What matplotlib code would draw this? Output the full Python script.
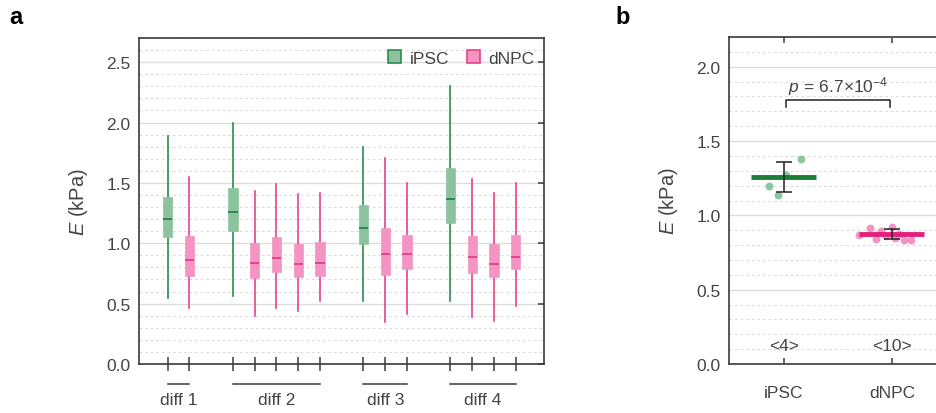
import matplotlib
matplotlib.use("Agg")
import matplotlib.pyplot as plt
from matplotlib.patches import Patch
from matplotlib.ticker import MultipleLocator
import numpy as np

FONT = "Liberation Sans"
plt.rcParams["font.family"] = [FONT, "DejaVu Sans"]
plt.rcParams["mathtext.fontset"] = "custom"
plt.rcParams["mathtext.rm"] = FONT
plt.rcParams["mathtext.it"] = f"{FONT}:italic"

# ---- panel a: per-differentiation box statistics ----
cell_type = ["iPSC", "dNPC",
             "iPSC", "dNPC", "dNPC", "dNPC", "dNPC",
             "iPSC", "dNPC", "dNPC",
             "iPSC", "dNPC", "dNPC", "dNPC"]
box_pos = [0, 1, 3, 4, 5, 6, 7, 9, 10, 11, 13, 14, 15, 16]
whis_lo = [0.55, 0.46, 0.56, 0.40, 0.46, 0.44, 0.52, 0.52, 0.35, 0.41, 0.52, 0.39, 0.36, 0.48]
q1      = [1.05, 0.73, 1.10, 0.71, 0.76, 0.72, 0.73, 0.99, 0.74, 0.79, 1.17, 0.75, 0.72, 0.79]
median  = [1.20, 0.86, 1.26, 0.84, 0.88, 0.83, 0.84, 1.13, 0.91, 0.91, 1.37, 0.89, 0.83, 0.89]
q3      = [1.38, 1.06, 1.46, 1.00, 1.05, 0.99, 1.01, 1.32, 1.13, 1.07, 1.62, 1.06, 0.99, 1.07]
whis_hi = [1.89, 1.55, 2.00, 1.43, 1.49, 1.41, 1.42, 1.80, 1.71, 1.50, 2.30, 1.53, 1.42, 1.50]

groups = ["diff 1", "diff 2", "diff 3", "diff 4"]
group_span = [(0, 1), (3, 7), (9, 11), (13, 16)]

# ---- panel b: per-replicate means ----
ipsc_x = [-0.14, -0.05, 0.02, 0.16]
ipsc_y = [1.20, 1.135, 1.27, 1.38]
dnpc_x = [-0.30, -0.20, -0.15, -0.10, -0.05, 0.00, 0.03, 0.07, 0.11, 0.18]
dnpc_y = [0.870, 0.915, 0.843, 0.892, 0.863, 0.922, 0.847, 0.876, 0.836, 0.836]
b_labels = ["iPSC", "dNPC"]
b_mean = [1.26, 0.874]
b_err = [0.10, 0.033]
b_n = ["<4>", "<10>"]
p_text = r"$p\,{=}\,6.7{\times}10^{-4}$"

GREEN_FILL = "#8bc39d"
GREEN_LINE = "#2e8a4f"
PINK_FILL = "#f494c3"
PINK_LINE = "#e6428c"
GREEN_BAR = "#1b7d36"
PINK_BAR = "#e3207c"
GREEN_PT = "#6dbb88"
PINK_PT = "#f07ab6"
SPINE = "#3a3a3a"
TXT = "#444444"
GRID = "#dcdcdc"
FS = 12.5

W, H = 937, 414
fig = plt.figure(figsize=(W / 100, H / 100), dpi=100)


def px_axes(l, t, r, b):
    return fig.add_axes([l / W, 1 - b / H, (r - l) / W, (b - t) / H])


def style_axes(ax, ymax):
    ax.set_ylim(0, ymax)
    ax.yaxis.set_major_locator(MultipleLocator(0.5))
    ax.yaxis.set_minor_locator(MultipleLocator(0.1))
    ax.grid(True, which="major", axis="y", color=GRID, lw=1.0, zorder=0)
    ax.grid(True, which="minor", axis="y", color=GRID, lw=0.8,
            linestyle=(0, (2.5, 2.5)), zorder=0)
    ax.set_axisbelow(True)
    for s in ax.spines.values():
        s.set_color(SPINE)
        s.set_linewidth(1.2)
    ax.tick_params(axis="y", which="minor", length=0)
    ax.tick_params(axis="both", labelsize=FS, colors=SPINE, labelcolor=TXT)
    ax.set_ylabel(r"$E$ (kPa)", fontsize=14.5, color=TXT, labelpad=12)


# ---------------- panel a ----------------
axa = px_axes(139, 39, 544, 365)
style_axes(axa, 2.7)
stats = [dict(whislo=a, q1=b, med=c, q3=d, whishi=e)
         for a, b, c, d, e in zip(whis_lo, q1, median, q3, whis_hi)]
bp = axa.bxp(stats, positions=box_pos, widths=0.43, patch_artist=True,
             showcaps=False, showfliers=False, manage_ticks=False)
for i, kind in enumerate(cell_type):
    fill, line = (GREEN_FILL, GREEN_LINE) if kind == "iPSC" else (PINK_FILL, PINK_LINE)
    bp["boxes"][i].set(facecolor=fill, edgecolor=fill, lw=0.5, zorder=3)
    bp["medians"][i].set(color=line, lw=1.4, zorder=4)
    for w in bp["whiskers"][2 * i:2 * i + 2]:
        w.set(color=line, lw=1.2, zorder=2)
axa.set_xlim(-1.32, 17.3)
axa.set_xticks(box_pos)
axa.set_xticklabels([])
axa.tick_params(axis="x", direction="inout", length=10, width=1.1, color=SPINE)
axa.tick_params(axis="y", which="major", left=False, right=True,
                direction="in", length=4, width=1.1)
axa.tick_params(axis="y", labelleft=True, pad=6)
trans = axa.get_xaxis_transform()
for name, (s, e) in zip(groups, group_span):
    axa.plot([s, e], [-0.060, -0.060], color=SPINE, lw=1.1,
             transform=trans, clip_on=False)
    axa.text((s + e) / 2, -0.108, name, transform=trans, ha="center",
             va="center", fontsize=FS, color=TXT)
handles = [Patch(facecolor=GREEN_FILL, edgecolor=GREEN_LINE, lw=1.2, label="iPSC"),
           Patch(facecolor=PINK_FILL, edgecolor=PINK_LINE, lw=1.2, label="dNPC")]
axa.legend(handles=handles, loc="upper right", bbox_to_anchor=(1.015, 1.01),
           ncol=2, frameon=False, fontsize=FS, handlelength=0.75,
           handleheight=0.75, handletextpad=0.5, columnspacing=1.0,
           labelcolor=TXT)

# ---------------- panel b ----------------
axb = px_axes(729, 38, 946, 365)
style_axes(axb, 2.2)
axb.set_xlim(-0.505, 1.5)
axb.set_xticks([0, 1])
axb.set_xticklabels(b_labels)
axb.tick_params(axis="x", direction="in", length=4, width=1.1, top=True,
                pad=15, color=SPINE)
axb.tick_params(axis="y", which="major", length=0, pad=6)
axb.scatter(ipsc_x, ipsc_y, s=32, color=GREEN_PT, alpha=0.8, lw=0, zorder=3)
axb.scatter(np.array(dnpc_x) + 1, dnpc_y, s=32, color=PINK_PT, alpha=0.8,
            lw=0, zorder=3)
for i, col in enumerate([GREEN_BAR, PINK_BAR]):
    axb.plot([i - 0.3, i + 0.3], [b_mean[i], b_mean[i]], color=col, lw=3.5,
             solid_capstyle="butt", zorder=4)
    axb.errorbar(i, b_mean[i], yerr=b_err[i], color="#222222", lw=1.1,
                 capsize=5.5, capthick=1.1, zorder=5)
    axb.text(i, 0.126, b_n[i], ha="center", va="center", fontsize=FS, color=TXT)
axb.plot([0.02, 0.02, 0.98, 0.98], [1.732, 1.773, 1.773, 1.732],
         color="#222222", lw=1.1, zorder=4)
axb.text(0.5, 1.875, p_text, ha="center", va="center", fontsize=FS, color=TXT)

fig.text(9 / W, 1 - 18 / H, "a", fontsize=17, fontweight="bold",
         va="center", ha="left")
fig.text(615 / W, 1 - 18 / H, "b", fontsize=17, fontweight="bold",
         va="center", ha="left")

fig.savefig("out.png", dpi=100)
